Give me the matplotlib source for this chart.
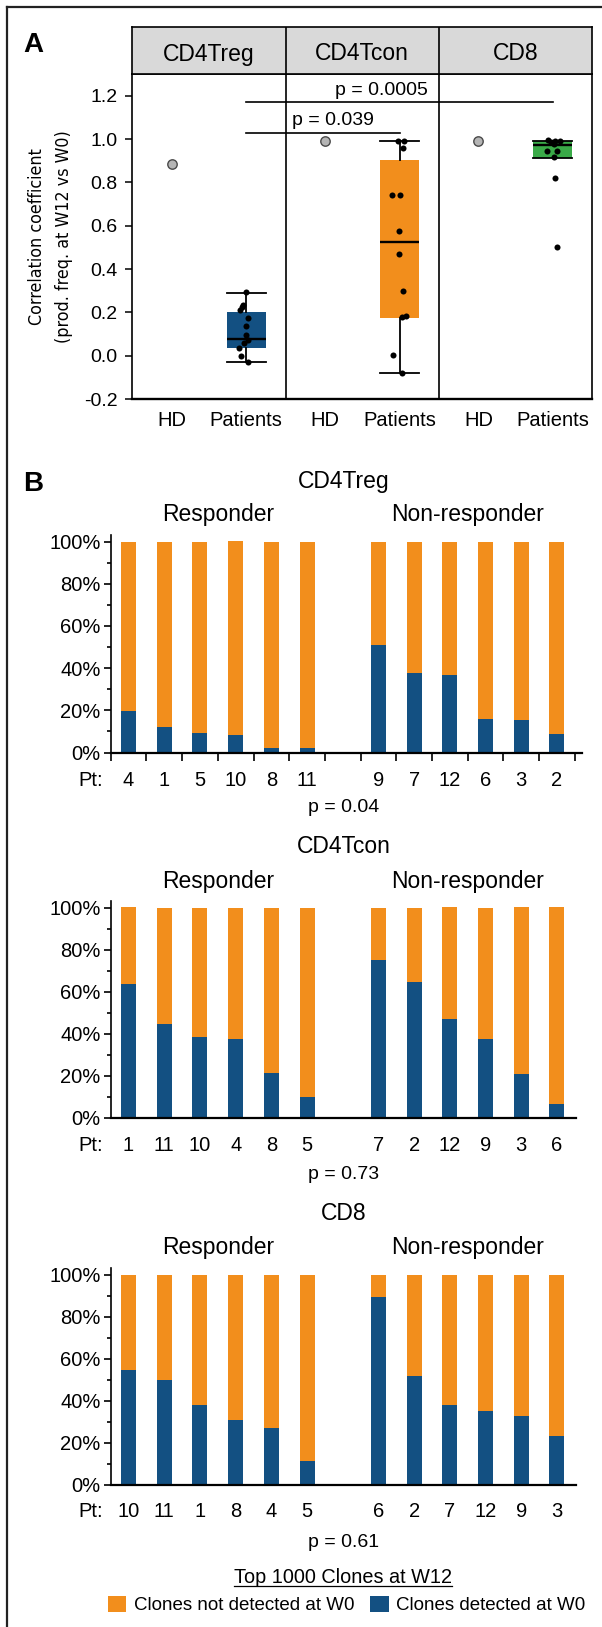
import matplotlib
matplotlib.use("Agg")
import matplotlib.pyplot as plt
from matplotlib import font_manager
from matplotlib.lines import Line2D
from matplotlib.transforms import blended_transform_factory
import numpy as np

"""
Panel A: correlation of clone frequencies W12 vs W0 (box plots per cell type)
Panel B: share of the top 1000 W12 clones that were already present at W0
"""

plt.rcParams["font.family"] = ["Liberation Sans", "DejaVu Sans"]
plt.rcParams["axes.unicode_minus"] = False

W, H = 602, 1627
BLUE = "#135082"
ORANGE = "#f28e1c"
GREEN = "#3aaa48"

# ---------------- panel A data ----------------
facets = ["CD4Treg", "CD4Tcon", "CD8"]
hd_corr = [0.885, 0.99, 0.99]
box_colors = [BLUE, ORANGE, GREEN]
box_med = [0.078, 0.525, 0.974]
box_q1 = [0.037, 0.175, 0.913]
box_q3 = [0.200, 0.903, 0.993]
box_lo = [-0.028, -0.078, 0.913]
box_hi = [0.290, 0.989, 0.990]

treg_corr = [0.294, 0.236, 0.225, 0.21, 0.175, 0.138, 0.095, 0.075, 0.057, 0.038, 0.0, -0.028]
treg_jit = [0.0, -0.04, -0.05, -0.08, 0.02, 0.0, 0.0, 0.03, -0.03, -0.09, -0.07, 0.02]
tcon_corr = [0.99, 0.99, 0.96, 0.74, 0.74, 0.575, 0.47, 0.30, 0.18, 0.185, 0.003, -0.08]
tcon_jit = [-0.02, 0.06, 0.05, -0.10, 0.01, -0.01, -0.01, 0.05, 0.03, 0.09, -0.09, 0.03]
cd8_corr = [0.995, 0.993, 0.99, 0.985, 0.975, 0.944, 0.944, 0.916, 0.82, 0.50]
cd8_jit = [-0.07, 0.03, 0.09, -0.02, 0.01, -0.08, 0.06, 0.01, 0.03, 0.06]

sig_pairs = [(0, 1), (0, 2)]
sig_y = [1.028, 1.169]
sig_text = ["p = 0.039", "p = 0.0005"]

# ---------------- panel B data ----------------
groups = ["Responder", "Non-responder"]
treg_resp_pt = ["4", "1", "5", "10", "8", "11"]
treg_resp_det = [0.198, 0.119, 0.094, 0.084, 0.022, 0.022]
treg_non_pt = ["9", "7", "12", "6", "3", "2"]
treg_non_det = [0.508, 0.379, 0.365, 0.160, 0.156, 0.089]

tcon_resp_pt = ["1", "11", "10", "4", "8", "5"]
tcon_resp_det = [0.634, 0.447, 0.381, 0.376, 0.213, 0.096]
tcon_non_pt = ["7", "2", "12", "9", "3", "6"]
tcon_non_det = [0.748, 0.643, 0.471, 0.376, 0.209, 0.065]

cd8_resp_pt = ["10", "11", "1", "8", "4", "5"]
cd8_resp_det = [0.548, 0.500, 0.381, 0.310, 0.271, 0.114]
cd8_non_pt = ["6", "2", "7", "12", "9", "3"]
cd8_non_det = [0.895, 0.519, 0.381, 0.352, 0.329, 0.233]

pvals_b = ["p = 0.04", "p = 0.73", "p = 0.61"]


def add_ax_px(fig, left, top, right, bottom):
    return fig.add_axes([left / W, 1 - bottom / H, (right - left) / W, (bottom - top) / H])


def fy(ypx):
    return 1 - ypx / H


def condensed_font():
    """Look for any installed narrow / condensed sans face for the y label"""
    cands = []
    for f in font_manager.fontManager.ttflist:
        nm = f.name.lower()
        if f.style != "normal" or f.weight not in (400, "normal", "regular"):
            continue
        if "narrow" in nm or "condensed" in nm or str(f.stretch).lower() in ("condensed", "semi-condensed"):
            if "mono" in nm or "serif" in nm.replace("sans", ""):
                continue
            cands.append(f)
    if not cands:
        return None
    cands.sort(key=lambda f: (0 if "liberation" in f.name.lower() else 1))
    return font_manager.FontProperties(fname=cands[0].fname)


fig = plt.figure(figsize=(W / 100, H / 100), dpi=100)

# outer frame (left and top only)
fig.add_artist(Line2D([7.3 / W, 7.3 / W], [0, fy(7.3)], transform=fig.transFigure,
                      color="#222222", lw=1.6))
fig.add_artist(Line2D([7.3 / W, 1], [fy(7.3), fy(7.3)], transform=fig.transFigure,
                      color="#222222", lw=1.6))

# ================= panel A =================
step = 2.06
xmin, xmax = -0.53, 3 * step - 0.53
ax = add_ax_px(fig, 132.3, 74, 592.3, 399.2)
strip = add_ax_px(fig, 132.3, 27.3, 592.3, 74)

ax.set_xlim(xmin, xmax)
ax.set_ylim(-0.2, 1.3)
for s in ax.spines.values():
    s.set_linewidth(1.2)
ax.spines["bottom"].set_linewidth(1.7)
ax.set_xticks([])
yt = np.round(np.arange(-0.2, 1.21, 0.2), 1)
ax.set_yticks(yt)
ax.set_yticklabels([f"{v:.1f}" for v in yt], fontsize=14)
ax.tick_params(axis="y", length=5.2, width=1.1, pad=5.5)

for i in range(1, 3):
    ax.axvline(i * step - 0.53, color="black", lw=1.2)

hd_x = [i * step for i in range(3)]
pat_x = [i * step + 1 for i in range(3)]

stats = []
for i in range(3):
    stats.append(dict(med=box_med[i], q1=box_q1[i], q3=box_q3[i],
                      whislo=box_lo[i], whishi=box_hi[i], fliers=[]))
bp = ax.bxp(stats, positions=pat_x, widths=0.52, patch_artist=True, showfliers=False,
            boxprops=dict(linewidth=0), medianprops=dict(color="black", lw=1.7),
            whiskerprops=dict(color="black", lw=1.3), capprops=dict(color="black", lw=1.3),
            capwidths=0.52, manage_ticks=False)
for patch, c in zip(bp["boxes"], box_colors):
    patch.set_facecolor(c)
    patch.set_edgecolor(c)

for i, (vals, jit) in enumerate([(treg_corr, treg_jit), (tcon_corr, tcon_jit), (cd8_corr, cd8_jit)]):
    ax.scatter(np.array(jit) + pat_x[i], vals, s=19, color="black", zorder=5, linewidths=0)
ax.scatter(hd_x, hd_corr, s=46, facecolor="#b5b5b5", edgecolor="#4a4a4a", linewidths=1.0, zorder=5)

for (a, b), y in zip(sig_pairs, sig_y):
    ax.plot([pat_x[a], pat_x[b]], [y, y], color="black", lw=1.2)
ax.text(2.822, 1.203, sig_text[1], fontsize=14, ha="center", va="baseline")
ax.text(2.164, 1.067, sig_text[0], fontsize=14, ha="center", va="baseline")

transA = blended_transform_factory(ax.transData, fig.transFigure)
for i in range(3):
    ax.text(hd_x[i], fy(426), "HD", fontsize=14.5, ha="center", va="baseline", transform=transA)
    ax.text(pat_x[i], fy(426), "Patients", fontsize=14.5, ha="center", va="baseline", transform=transA)

strip.set_xlim(xmin, xmax)
strip.set_ylim(0, 1)
strip.set_facecolor("#d9d9d9")
strip.set_xticks([])
strip.set_yticks([])
for s in strip.spines.values():
    s.set_linewidth(1.2)
for i in range(1, 3):
    strip.axvline(i * step - 0.53, color="black", lw=1.2)
transS = blended_transform_factory(strip.transData, fig.transFigure)
for i, name in enumerate(facets):
    strip.text(i * step + 0.5, fy(60.5), name, fontsize=16.5, ha="center", va="baseline",
               transform=transS)

cfont = condensed_font()
ylab_kw = dict(rotation=90, ha="center", va="center")
if cfont is not None:
    cfont.set_size(12.8)
    ylab_kw["fontproperties"] = cfont
else:
    ylab_kw["fontsize"] = 12.5
fig.text(37 / W, fy(236.6), "Correlation coefficient", **ylab_kw)
fig.text(64 / W, fy(236.6), "(prod. freq. at W12 vs W0)", **ylab_kw)

fig.text(23 / W, fy(52.3), "A", fontsize=20, fontweight="bold", ha="left", va="baseline")
fig.text(23 / W, fy(490.7), "B", fontsize=20, fontweight="bold", ha="left", va="baseline")

# ================= panel B =================
subsets = [
    ("CD4Treg", treg_resp_pt + treg_non_pt, treg_resp_det + treg_non_det),
    ("CD4Tcon", tcon_resp_pt + tcon_non_pt, tcon_resp_det + tcon_non_det),
    ("CD8", cd8_resp_pt + cd8_non_pt, cd8_resp_det + cd8_non_det),
]
zero_px = [752.5, 1117.5, 1485]
unit_px = [211, 210, 210]
right_px = [582, 575.8, 575.7]
title_base = [488, 853.3, 1220]
group_base = [521, 887.7, 1254.3]
pt_base = [785.7, 1150.7, 1517.3]
p_base = [812.3, 1179.3, 1546.7]
left_px, slot_px = 110.7, 35.7
xpos = list(range(6)) + list(range(7, 13))

handles = None
for k, (name, pts, det) in enumerate(subsets):
    top = zero_px[k] - 1.031 * unit_px[k]
    axb = add_ax_px(fig, left_px, top, right_px[k], zero_px[k])
    det = np.array(det)
    b1 = axb.bar(xpos, det, width=0.42, color=BLUE, label="Clones detected at W0")
    b2 = axb.bar(xpos, 1 - det, bottom=det, width=0.42, color=ORANGE,
                 label="Clones not detected at W0")
    handles = [b2, b1]
    axb.set_xlim(-0.5, -0.5 + (right_px[k] - left_px) / slot_px)
    axb.set_ylim(0, 1.031)
    axb.spines["top"].set_visible(False)
    axb.spines["right"].set_visible(False)
    axb.spines["left"].set_linewidth(1.2)
    axb.spines["bottom"].set_linewidth(1.6)
    axb.set_yticks(np.arange(0, 1.01, 0.2))
    axb.set_yticklabels([f"{int(round(v * 100))}%" for v in np.arange(0, 1.01, 0.2)], fontsize=14.5)
    axb.set_yticks(np.arange(0.1, 1.0, 0.2), minor=True)
    axb.tick_params(axis="y", which="major", length=5.3, width=1.2, pad=2)
    axb.tick_params(axis="y", which="minor", length=2.9, width=1.2)
    axb.set_xticks([])
    if k == 0:
        axb.set_xticks(np.arange(-0.5, 12.6, 1.0), minor=True)
        axb.tick_params(axis="x", which="minor", length=5.5, width=1.2)

    tr = blended_transform_factory(axb.transData, fig.transFigure)
    axb.text(6.03, fy(title_base[k]), name, fontsize=16.5, ha="center", va="baseline", transform=tr)
    axb.text(2.5, fy(group_base[k]), groups[0], fontsize=16.5, ha="center", va="baseline", transform=tr)
    axb.text(9.5, fy(group_base[k]), groups[1], fontsize=16.5, ha="center", va="baseline", transform=tr)
    axb.text(-0.72, fy(pt_base[k]), "Pt:", fontsize=14.5, ha="right", va="baseline", transform=tr)
    for x, lab in zip(xpos, pts):
        axb.text(x, fy(pt_base[k]), lab, fontsize=14.5, ha="center", va="baseline", transform=tr)
    axb.text(6.03, fy(p_base[k]), pvals_b[k], fontsize=14, ha="center", va="baseline", transform=tr)

# legend
t = fig.text(343.4 / W, fy(1583), "Top 1000 Clones at W12", fontsize=14.3, ha="center", va="baseline")
renderer = fig.canvas.get_renderer()
bb = t.get_window_extent(renderer)
fig.add_artist(Line2D([bb.x0 / W, bb.x1 / W], [fy(1585.5), fy(1585.5)], transform=fig.transFigure,
                      color="black", lw=0.9))
fig.legend(handles=handles, loc="center left", bbox_to_anchor=(107.7 / W, fy(1605)), ncol=2,
           frameon=False, fontsize=13.5, handlelength=1.0, handleheight=0.96, handletextpad=0.42,
           columnspacing=0.8, borderpad=0, borderaxespad=0)

fig.savefig("out.png", dpi=100)
